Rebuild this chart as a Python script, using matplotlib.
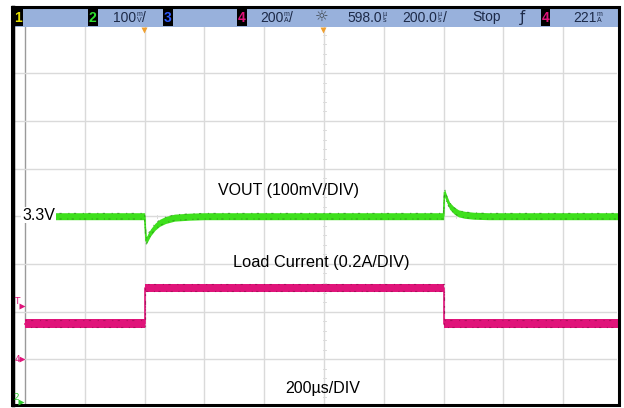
import numpy as np
import matplotlib.pyplot as plt
from matplotlib.patches import Rectangle

# scope capture: 3.3V rail response to a 150mA -> 300mA load step

# time axis (us, trigger at 0), 200us/div
t_per_div = 200

# channel 2: VOUT deviation from 3.3V (mV), 100mV/div
vout_t = [-400, 0, 5, 10, 20, 35, 50, 70, 100, 150, 200,
          1000, 1003, 1010, 1020, 1035, 1050, 1070, 1100, 1150, 1600]
vout_mv = [0, 0, -52, -46, -34, -22, -14, -8, -3, -1, 0,
           0, 50, 37, 22, 12, 6, 3, 1, 0, 0]
vout_mv_per_div = 100
vout_pos = 4.0  # 3.3V sits on the centre line

# channel 4: load current (mA), 200mA/div
iload_t = [-400, 0, 0, 1000, 1000, 1600]
iload_ma = [150, 150, 300, 300, 150, 150]
iload_ma_per_div = 200
iload_gnd = 1.0

# status bar readouts
ch2_scale = ("100", "m", "V")
ch4_scale = ("200", "m", "A")
delay = ("598.0", "µ", "s")
timebase = ("200.0", "µ", "s")
trig_level = ("221", "m", "A")

GREEN = "#3ee01c"
GREEN_DK = "#2f8a1e"
PINK = "#e0147a"
PINK_DK = "#9a0c50"
GRID = "#dadada"

W, H = 624, 408
fig = plt.figure(figsize=(W / 100, H / 100), dpi=100)
fig.patch.set_facecolor("white")

# graticule geometry in pixels
gx0, gdx = 25.0, 59.8      # first vertical line, px per div
gy0, gdy = 407.0, 47.7     # bottom line, px per div
px_l, px_r, px_t, px_b = 14, 617, 27, 404


def px_to_t(px):
    return -400 + (px - gx0) * t_per_div / gdx


def px_to_d(py):
    return (gy0 - py) / gdy


ax = fig.add_axes([px_l / W, 1 - px_b / H, (px_r - px_l) / W, (px_b - px_t) / H])
ax.set_xlim(px_to_t(px_l), px_to_t(px_r))
ax.set_ylim(px_to_d(px_b), px_to_d(px_t))
ax.set_facecolor("white")
for s in ax.spines.values():
    s.set_visible(False)
ax.set_xticks([])
ax.set_yticks([])

# grid
for k in range(11):
    ax.axvline(-400 + k * t_per_div, color="#9a9a9a" if k == 0 else GRID, lw=1.0, zorder=1)
for k in range(9):
    ax.axhline(k, color=GRID, lw=1.0, zorder=1)

# minor ticks on the centre lines
tc = -400 + 5 * t_per_div
tick_w = 1.5 * t_per_div / gdx
tick_h = 1.5 / gdy
for m in np.arange(0, 8.01, 0.2):
    ax.plot([tc - tick_w, tc + tick_w], [m, m], color="#dcdcdc", lw=0.7, zorder=1)
for m in np.arange(-400, 1600.1, 40):
    ax.plot([m, m], [4 - tick_h, 4 + tick_h], color="#dcdcdc", lw=0.7, zorder=1)


def trace(t, y, half, color, dark):
    t = np.asarray(t, float)
    y = np.asarray(y, float)
    ax.plot(t, y, color=color, lw=1.2, zorder=3)
    ax.fill_between(t, y - half, y + half, color=color, lw=0, zorder=3)
    # speckled noise edges
    edge = half * 0.8
    ax.plot(t, y + edge, color=dark, lw=0.8, alpha=0.7, ls=(0, (1, 4, 2, 6)), zorder=4)
    ax.plot(t, y - edge, color=dark, lw=0.8, alpha=0.7, ls=(2, (2, 5, 1, 3)), zorder=4)


vout_y = vout_pos + np.array(vout_mv) / vout_mv_per_div
iload_y = iload_gnd + np.array(iload_ma) / iload_ma_per_div
trace(vout_t, vout_y, 3.5 / gdy, GREEN, GREEN_DK)
trace(iload_t, iload_y, 4.2 / gdy, PINK, PINK_DK)

# overlay in pixel space: status bar, frame, labels
ov = fig.add_axes([0, 0, 1, 1], zorder=5)
ov.set_xlim(0, W)
ov.set_ylim(H, 0)
ov.axis("off")
ov.patch.set_alpha(0)

ov.add_patch(Rectangle((13, 7.5), 605, 19.5, facecolor="#98b1dc", edgecolor="none"))
ov.plot([12, 619, 619, 12, 12], [7, 7, 405, 405, 7], color="black", lw=2.2,
        solid_joinstyle="miter")
ov.plot([13, 13], [7, 405], color="black", lw=2.5)

bar_y = 17.5
bar_font = "Liberation Sans"
bar_size = 10
ink = "#1d2a48"
renderer = fig.canvas.get_renderer()


def right_edge(txt):
    bb = txt.get_window_extent(renderer)
    return ov.transData.inverted().transform((bb.x1, bb.y0))[0]


def chan_box(x, label, color):
    ov.add_patch(Rectangle((x, 9), 9.5, 17, facecolor="black", edgecolor="none"))
    ov.text(x + 4.75, bar_y + 0.5, label, color=color, fontsize=10, fontweight="bold",
            ha="center", va="center", family=bar_font)


def readout(x, parts, slash):
    num, top, bot = parts
    t = ov.text(x, bar_y, num, color=ink, fontsize=bar_size, ha="left", va="center",
                family=bar_font)
    ux = right_edge(t) + 3
    ov.text(ux, bar_y - 3.2, top, color=ink, fontsize=5, ha="center", va="center",
            family=bar_font)
    ov.text(ux, bar_y + 3.2, bot, color=ink, fontsize=5, ha="center", va="center",
            family=bar_font)
    if slash:
        ov.text(ux + 3, bar_y, "/", color=ink, fontsize=bar_size, ha="left", va="center",
                family=bar_font)


chan_box(13.5, "1", "#e6e000")
chan_box(88, "2", "#2ee02e")
readout(113, ch2_scale, True)
chan_box(163, "3", "#2f5cff")
chan_box(237, "4", PINK)
readout(260, ch4_scale, True)
ov.text(322, bar_y, "☼", color="#404850", fontsize=11, ha="center", va="center")
readout(347, delay, False)
readout(402, timebase, True)
ov.text(472, bar_y, "Stop", color=ink, fontsize=bar_size, ha="left", va="center",
        family=bar_font)
ov.text(522, bar_y, "ƒ", color=ink, fontsize=10.5, ha="center", va="center")
chan_box(540.5, "4", PINK)
readout(573, trig_level, False)

# reference markers under the status bar
ov.plot([144, 323], [29.5, 29.5], ls="none", marker="v", ms=5, color="#f0a030", mec="none")

# left-side channel markers
ov.text(17, 302, "T", color=PINK, fontsize=6.5, ha="center", va="center")
ov.plot([22], [306], marker=">", ms=4, color=PINK, mec="none")
ov.text(17, 359, "4", color=PINK, fontsize=6.5, ha="center", va="center")
ov.plot([22], [359], marker=">", ms=4, color=PINK, mec="none")
ov.text(16, 397, "2", color="#2ecc2e", fontsize=6.5, ha="center", va="center")
ov.plot([21], [402], marker=">", ms=4, color="#2ecc2e", mec="none")

# annotations
ov.text(38.5, 215, "3.3V", fontsize=11.5, ha="center", va="center", family="Liberation Sans",
        bbox=dict(facecolor="white", edgecolor="none", pad=0.5))
ov.text(288.5, 190, "VOUT (100mV/DIV)", fontsize=11.5, ha="center", va="center",
        family="Liberation Sans")
ov.text(321.5, 262, "Load Current (0.2A/DIV)", fontsize=11.8, ha="center", va="center",
        family="Liberation Sans")
ov.text(323, 388, "200µs/DIV", fontsize=11.5, ha="center", va="center",
        family="Liberation Sans")

fig.savefig("out.png", dpi=100, facecolor="white")
